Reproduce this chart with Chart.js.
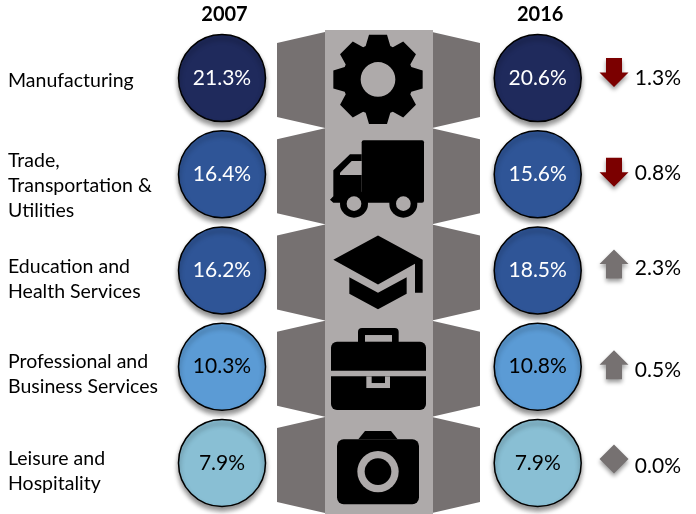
<!DOCTYPE html>
<html>
<head>
<meta charset="utf-8">
<title>Industry shares 2007 and 2016</title>
<script src="https://cdn.jsdelivr.net/npm/chart.js@4"></script>
<style>
  html, body { margin: 0; padding: 0; background: #fff; }
  canvas { display: block; }
</style>
</head>
<body>
<canvas id="chart" width="696" height="514"></canvas>
<script>
// ---- data ----
const categories = [
  ['Manufacturing'],
  ['Trade,', 'Transportation &', 'Utilities'],
  ['Education and', 'Health Services'],
  ['Professional and', 'Business Services'],
  ['Leisure and', 'Hospitality'],
];
const years      = ['2007', '2016'];
const values2007 = [21.3, 16.4, 16.2, 10.3, 7.9];
const values2016 = [20.6, 15.6, 18.5, 10.8, 7.9];
const changes    = [-1.3, -0.8, 2.3, 0.5, 0.0];

// ---- styles ----
const FONT       = 'Lato, "Open Sans", sans-serif';
const rowColors  = ['#1f2a5c', '#2f5597', '#2f5597', '#5b9bd5', '#89bfd4'];
const textColors = ['#fff', '#fff', '#fff', '#000', '#000'];
const COLUMN     = '#aeaaaa';
const FLAP       = '#767171';
const DOWN_RED   = '#7b0000';

// small per-row nudges (px), the original slide was placed by hand
const labelNudge  = [3, 11, 8.5, 7.5, 8.5];
const arrowNudge  = [-5.5, -2, -6.5, -2, -4];
const changeNudge = [0, -1, -2, 4, 3];

const BAND = 96.2;

function row(chart, i) { return chart.scales.y.getPixelForValue(i); }

// icons are written in 1/3 px units around the row centre
function gear(ctx) {
  const Ro = 134, Rb = 100, tip = 27, base = 37;
  ctx.beginPath();
  for (let i = 0; i < 8; i++) {
    const a = i * Math.PI / 4, c = Math.cos(a), s = Math.sin(a);
    const pts = [[-base, -Rb], [-tip, -Ro], [tip, -Ro], [base, -Rb]];
    pts.forEach(p => {
      const x = p[0] * c - p[1] * s, y = p[0] * s + p[1] * c + 4;
      ctx.lineTo(x, y);
    });
  }
  ctx.closePath();
  ctx.moveTo(52, 4);
  ctx.arc(0, 4, 52, 0, Math.PI * 2);
  ctx.fillStyle = '#000';
  ctx.fill('evenodd');
}

function truck(ctx) {
  ctx.fillStyle = '#000';
  ctx.beginPath();
  ctx.roundRect(-49, -102, 187, 187, 6);
  ctx.fill();
  ctx.beginPath();
  ctx.moveTo(-49, -60);
  ctx.lineTo(-84, -60);
  ctx.lineTo(-134, -12);
  ctx.lineTo(-134, 66);
  ctx.lineTo(-144, 76);
  ctx.lineTo(-134, 85);
  ctx.lineTo(-49, 85);
  ctx.closePath();
  ctx.fill();
  ctx.fillStyle = COLUMN;
  ctx.beginPath();
  ctx.moveTo(-49, -40);
  ctx.lineTo(-79, -40);
  ctx.lineTo(-114, -5);
  ctx.lineTo(-114, 2);
  ctx.lineTo(-49, 2);
  ctx.closePath();
  ctx.fill();
  [-72, 76].forEach(x => {
    ctx.fillStyle = '#000';
    ctx.beginPath();
    ctx.arc(x, 88, 42, 0, Math.PI * 2);
    ctx.fill();
    ctx.fillStyle = COLUMN;
    ctx.beginPath();
    ctx.arc(x, 88, 22, 0, Math.PI * 2);
    ctx.fill();
  });
}

function cap(ctx) {
  ctx.fillStyle = '#000';
  ctx.beginPath();
  ctx.moveTo(0, -105);
  ctx.lineTo(134, -32);
  ctx.lineTo(134, 67);
  ctx.lineTo(111, 67);
  ctx.lineTo(111, -20);
  ctx.lineTo(0, 42);
  ctx.lineTo(-134, -32);
  ctx.closePath();
  ctx.fill();
  ctx.beginPath();
  ctx.moveTo(-86, 20);
  ctx.lineTo(0, 67);
  ctx.lineTo(86, 20);
  ctx.lineTo(86, 70);
  ctx.lineTo(0, 116);
  ctx.lineTo(-86, 70);
  ctx.closePath();
  ctx.fill();
}

function briefcase(ctx) {
  ctx.fillStyle = '#000';
  ctx.beginPath();
  ctx.roundRect(-60, -116, 122, 60, 12);
  ctx.fill();
  ctx.beginPath();
  ctx.roundRect(-141, -75, 285, 87, [18, 18, 0, 0]);
  ctx.fill();
  ctx.beginPath();
  ctx.roundRect(-141, 29, 285, 101, [0, 0, 18, 18]);
  ctx.fill();
  ctx.fillStyle = COLUMN;
  ctx.fillRect(-39, -95, 81, 20);
  ctx.fillRect(-35, 29, 71, 35);
  ctx.fillStyle = '#000';
  ctx.fillRect(-19, 29, 40, 20);
}

function camera(ctx) {
  ctx.fillStyle = '#000';
  ctx.beginPath();
  ctx.roundRect(-123, -71, 246, 195, 20);
  ctx.fill();
  ctx.beginPath();
  ctx.moveTo(-59, -71);
  ctx.lineTo(-39, -96);
  ctx.lineTo(39, -96);
  ctx.lineTo(59, -71);
  ctx.closePath();
  ctx.fill();
  ctx.fillStyle = COLUMN;
  ctx.beginPath();
  ctx.arc(0, 26, 62, 0, Math.PI * 2);
  ctx.fill();
  ctx.fillStyle = '#000';
  ctx.beginPath();
  ctx.arc(0, 26, 40, 0, Math.PI * 2);
  ctx.fill();
}

const icons = [gear, truck, cap, briefcase, camera];

// grey middle column with the flaps, under the circles
const panelPlugin = {
  id: 'panels',
  beforeDatasetsDraw(chart) {
    const ctx = chart.ctx;
    ctx.save();
    ctx.fillStyle = FLAP;
    categories.forEach((c, i) => {
      const y = row(chart, i);
      [[277, 325], [480, 432]].forEach(f => {
        ctx.beginPath();
        ctx.moveTo(f[0], y - 35);
        ctx.lineTo(f[1], y - 46);
        ctx.lineTo(f[1], y + 50);
        ctx.lineTo(f[0], y + 39);
        ctx.closePath();
        ctx.fill();
      });
    });
    ctx.fillStyle = COLUMN;
    ctx.fillRect(325, 30, 108, chart.height - 30);
    icons.forEach((draw, i) => {
      ctx.save();
      ctx.translate(378, row(chart, i));
      ctx.scale(1 / 3, 1 / 3);
      draw(ctx);
      ctx.restore();
    });
    ctx.restore();
  },
  beforeDatasetDraw(chart) {
    const ctx = chart.ctx;
    ctx.save();
    ctx.shadowColor = 'rgba(0,0,0,0.45)';
    ctx.shadowBlur = 5;
    ctx.shadowOffsetY = 4;
  },
  afterDatasetDraw(chart) {
    chart.ctx.restore();
  },
};

function arrow(ctx, x, y, change) {
  ctx.save();
  ctx.shadowColor = 'rgba(0,0,0,0.4)';
  ctx.shadowBlur = 4;
  ctx.shadowOffsetY = 3;
  ctx.fillStyle = change < 0 ? DOWN_RED : FLAP;
  ctx.beginPath();
  if (change === 0) {
    ctx.moveTo(x, y - 14.5);
    ctx.lineTo(x + 14.5, y);
    ctx.lineTo(x, y + 14.5);
    ctx.lineTo(x - 14.5, y);
  } else {
    const d = change < 0 ? 1 : -1;
    ctx.moveTo(x - 8, y - 14.5 * d);
    ctx.lineTo(x + 8, y - 14.5 * d);
    ctx.lineTo(x + 8, y);
    ctx.lineTo(x + 14.5, y);
    ctx.lineTo(x, y + 14.5 * d);
    ctx.lineTo(x - 14.5, y);
    ctx.lineTo(x - 8, y);
  }
  ctx.closePath();
  ctx.fill();
  ctx.restore();
}

// percentages inside the circles and the change column
const textPlugin = {
  id: 'texts',
  afterDatasetsDraw(chart) {
    const ctx = chart.ctx;
    ctx.save();
    ctx.textBaseline = 'middle';
    ctx.font = '21px ' + FONT;
    ctx.textAlign = 'center';
    chart.data.datasets.forEach((ds, d) => {
      chart.getDatasetMeta(d).data.forEach((pt, i) => {
        ctx.fillStyle = textColors[i];
        ctx.fillText(ds.values[i].toFixed(1) + '%', pt.x, pt.y);
      });
    });
    ctx.textAlign = 'right';
    changes.forEach((v, i) => {
      const y = row(chart, i);
      arrow(ctx, 614, y + arrowNudge[i], v);
      ctx.fillStyle = '#000';
      ctx.fillText(Math.abs(v).toFixed(1) + '%', 681, y + changeNudge[i]);
    });
    ctx.restore();
  },
};

function points(values, col) {
  return values.map((v, i) => ({ x: col, y: i }));
}

function yearDataset(label, values, col) {
  return {
    label: label,
    values: values,
    data: points(values, col),
    pointRadius: 43.5,
    pointBackgroundColor: rowColors,
    pointBorderColor: '#000',
    pointBorderWidth: 1.5,
    clip: false,
  };
}

// the axes should not eat into the plot for their label overhang
function noPadding(scale) {
  scale.paddingLeft = scale.paddingRight = scale.paddingTop = scale.paddingBottom = 0;
}

new Chart(document.getElementById('chart'), {
  type: 'scatter',
  data: {
    datasets: [
      yearDataset(years[0], values2007, 0),
      yearDataset(years[1], values2016, 1),
    ],
  },
  options: {
    responsive: false,
    animation: false,
    events: [],
    layout: { autoPadding: false, padding: { left: 8, right: 0, top: 0, bottom: 3 } },
    plugins: { legend: { display: false }, tooltip: { enabled: false } },
    scales: {
      x: {
        type: 'linear',
        position: 'top',
        // maps column 0 to x=222 and column 1 to x=537.7
        min: -0.1647,
        max: 1.5014,
        border: { display: false },
        grid: { display: false, drawTicks: false },
        afterBuildTicks(scale) { scale.ticks = years.map((y, i) => ({ value: i })); },
        afterFit(scale) { scale.height = 30; noPadding(scale); },
        ticks: {
          autoSkip: false,
          maxRotation: 0,
          padding: 3,
          labelOffset: 2.5,
          color: '#000',
          font: { family: FONT, size: 20, weight: 'bold' },
          callback: (v, i) => years[i],
        },
      },
      y: {
        type: 'category',
        labels: categories,
        offset: true,
        border: { display: false },
        grid: { display: false, drawTicks: false },
        afterBuildTicks(scale) {
          scale.ticks = categories.map((c, i) => ({ value: i + labelNudge[i] / BAND }));
        },
        afterFit(scale) { scale.width = 162; noPadding(scale); },
        ticks: {
          autoSkip: false,
          crossAlign: 'far',
          color: '#000',
          font: { family: FONT, size: 19.5, lineHeight: 1.28 },
          callback: (v, i) => categories[i],
        },
      },
    },
  },
  plugins: [panelPlugin, textPlugin],
});
</script>
</body>
</html>
